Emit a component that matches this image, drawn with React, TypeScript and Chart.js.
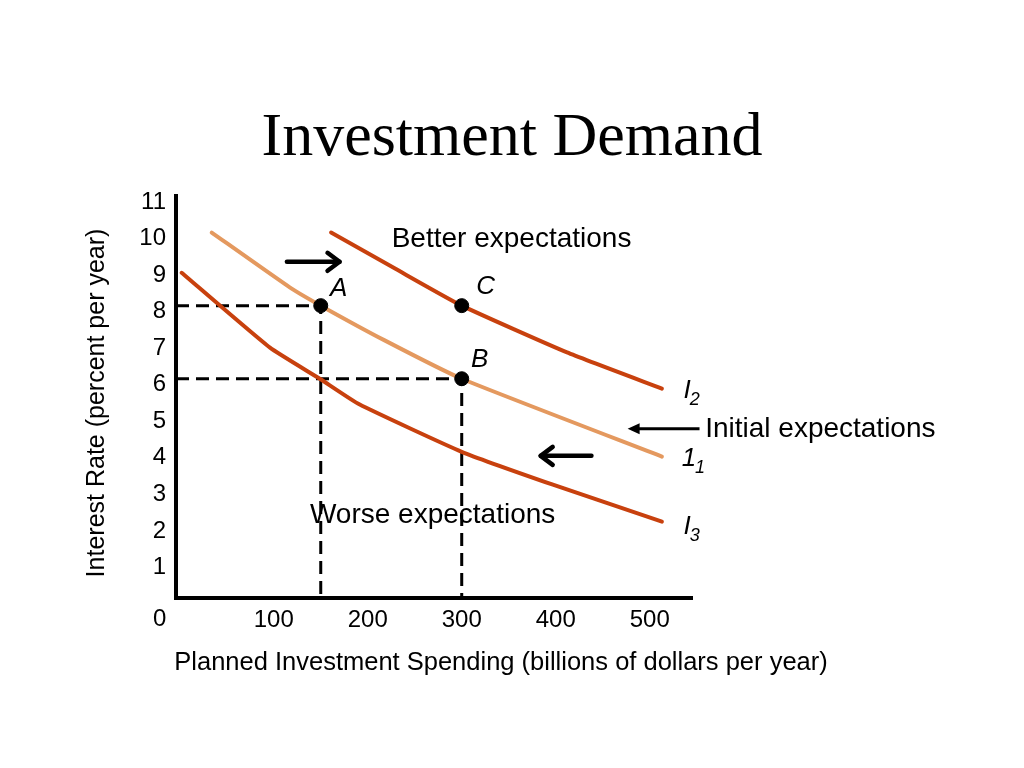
import React, { useEffect, useRef } from "react";
import { Chart, registerables } from "chart.js";

Chart.register(...registerables);

// ---- Data ----
const X_TICKS = [100, 200, 300, 400, 500];
const Y_TICKS = [1, 2, 3, 4, 5, 6, 7, 8, 9, 10, 11];

// Investment demand curves: [spending, rate]
const I2_CURVE = [
  { x: 161, y: 10.0 },
  { x: 230, y: 9.0 },
  { x: 300, y: 8.0 },
  { x: 412, y: 6.72 },
  { x: 513, y: 5.73 },
];
const I1_CURVE = [
  { x: 34, y: 10.0 },
  { x: 117, y: 8.5 },
  { x: 150, y: 8.0 },
  { x: 218, y: 7.05 },
  { x: 300, y: 6.0 },
  { x: 513, y: 3.87 },
];
const I3_CURVE = [
  { x: 2, y: 8.9 },
  { x: 96, y: 6.85 },
  { x: 149, y: 6.0 },
  { x: 191, y: 5.3 },
  { x: 300, y: 4.0 },
  { x: 397, y: 3.1 },
  { x: 513, y: 2.09 },
];

const POINT_A = { x: 150, y: 8 };
const POINT_B = { x: 300, y: 6 };
const POINT_C = { x: 300, y: 8 };

const X_MIN = -4;
const X_MAX = 545;
const Y_MIN = 0;
const Y_MAX = 11;

const X_TITLE = "Planned Investment Spending (billions of dollars per year)";
const Y_TITLE = "Interest Rate (percent per year)";

const DARK = "#C8410E";
const LIGHT = "#E4995F";
const SANS = "'Liberation Sans', Arial, Helvetica, sans-serif";
const SERIF = "'Liberation Serif', 'Times New Roman', serif";

const annotationPlugin = {
  id: "econAnnotations",
  afterDraw(chart: any) {
    const { ctx } = chart;
    const xs = chart.scales.x;
    const ys = chart.scales.y;
    const px = (v: number) => xs.getPixelForValue(v);
    const py = (v: number) => ys.getPixelForValue(v);

    ctx.save();
    // Title
    ctx.fillStyle = "#000";
    ctx.font = `62px ${SERIF}`;
    ctx.textAlign = "center";
    ctx.textBaseline = "middle";
    ctx.fillText("Investment Demand", 512, 139);

    // Axis titles
    ctx.font = `25.5px ${SANS}`;
    ctx.fillText(X_TITLE, 501, 663);
    ctx.save();
    ctx.translate(97, 403);
    ctx.rotate(-Math.PI / 2);
    ctx.font = `25px ${SANS}`;
    ctx.fillText(Y_TITLE, 0, 0);
    ctx.restore();

    // Corner zero label
    ctx.font = `24px ${SANS}`;
    ctx.fillText("0", px(0) - 20, ys.bottom + 21);

    // Text annotations
    ctx.font = `28px ${SANS}`;
    ctx.fillText("Better expectations", px(353), py(9.81));
    ctx.fillText("Worse expectations", px(269), py(2.25));
    ctx.textAlign = "left";
    ctx.fillText("Initial expectations", px(559), py(4.63));

    // Point labels
    ctx.textAlign = "center";
    ctx.font = `italic 26px ${SANS}`;
    ctx.fillText("A", px(169), py(8.47));
    ctx.fillText("B", px(319), py(6.52));
    ctx.fillText("C", px(325.5), py(8.52));

    // Curve labels with subscripts
    const curveLabel = (main: string, sub: string, xv: number, yv: number) => {
      ctx.textAlign = "left";
      ctx.font = `italic 26px ${SANS}`;
      const x = px(xv);
      const y = py(yv);
      ctx.fillText(main, x, y);
      const w = ctx.measureText(main).width;
      ctx.font = `italic 18px ${SANS}`;
      ctx.fillText(sub, x + w - 1, y + 9);
    };
    curveLabel("I", "2", 536, 5.66);
    curveLabel("1", "1", 534, 3.8);
    curveLabel("I", "3", 536, 1.95);

    // Arrows
    const chevronArrow = (x1: number, y1: number, x2: number, y2: number) => {
      const a = px(x1), b = py(y1), c = px(x2), d = py(y2);
      const dir = Math.sign(c - a);
      ctx.strokeStyle = "#000";
      ctx.lineWidth = 4.5;
      ctx.lineCap = "round";
      ctx.lineJoin = "round";
      ctx.beginPath();
      ctx.moveTo(a, b);
      ctx.lineTo(c, d);
      ctx.stroke();
      ctx.beginPath();
      ctx.moveTo(c - dir * 12, d - 9);
      ctx.lineTo(c, d);
      ctx.lineTo(c - dir * 12, d + 9);
      ctx.stroke();
    };
    chevronArrow(114, 9.2, 170, 9.2);
    chevronArrow(438, 3.89, 384, 3.89);

    // Thin arrow with filled head
    {
      const a = px(553), c = px(476.5), y = py(4.63);
      ctx.strokeStyle = "#000";
      ctx.fillStyle = "#000";
      ctx.lineWidth = 3;
      ctx.lineCap = "butt";
      ctx.beginPath();
      ctx.moveTo(a, y);
      ctx.lineTo(c + 10, y);
      ctx.stroke();
      ctx.beginPath();
      ctx.moveTo(c, y);
      ctx.lineTo(c + 12, y - 5.5);
      ctx.lineTo(c + 12, y + 5.5);
      ctx.closePath();
      ctx.fill();
    }
    ctx.restore();
  },
};

export default function App() {
  const canvasRef = useRef<HTMLCanvasElement | null>(null);

  useEffect(() => {
    if (!canvasRef.current) return;
    const dashA = [
      { x: X_MIN, y: POINT_A.y },
      { x: POINT_A.x, y: POINT_A.y },
      { x: POINT_A.x, y: Y_MIN },
    ];
    const dashB = [
      { x: X_MIN, y: POINT_B.y },
      { x: POINT_B.x, y: POINT_B.y },
      { x: POINT_B.x, y: Y_MIN },
    ];
    const curveStyle = (color: string) => ({
      borderColor: color,
      backgroundColor: color,
      borderWidth: 4,
      pointRadius: 0,
      tension: 0.15,
      borderCapStyle: "round" as const,
      borderJoinStyle: "round" as const,
      fill: false,
    });
    const dashStyle = {
      borderColor: "#000",
      borderWidth: 3,
      borderDash: [13, 7],
      pointRadius: 0,
      tension: 0,
      fill: false,
    };

    const chart = new Chart(canvasRef.current, {
      type: "line",
      data: {
        datasets: [
          {
            label: "Points",
            data: [POINT_A, POINT_B, POINT_C],
            showLine: false,
            pointRadius: 7,
            pointBackgroundColor: "#000",
            pointBorderColor: "#000",
            borderColor: "#000",
          } as any,
          { label: "I2", data: I2_CURVE, ...curveStyle(DARK) },
          { label: "I1", data: I1_CURVE, ...curveStyle(LIGHT) },
          { label: "I3", data: I3_CURVE, ...curveStyle(DARK) },
          { label: "dashA", data: dashA, ...dashStyle },
          { label: "dashB", data: dashB, ...dashStyle },
        ],
      },
      options: {
        animation: false,
        responsive: true,
        maintainAspectRatio: false,
        layout: { padding: { left: 0, top: 196, right: 332, bottom: 0 } },
        plugins: {
          legend: { display: false },
          tooltip: { enabled: false },
          title: { display: false },
        },
        scales: {
          x: {
            type: "linear",
            min: X_MIN,
            max: X_MAX,
            grid: { display: false },
            border: { display: true, color: "#000", width: 4 },
            afterBuildTicks: (scale: any) => {
              scale.ticks = X_TICKS.map((v) => ({ value: v }));
            },
            afterFit: (scale: any) => {
              scale.height = 170;
            },
            ticks: {
              color: "#000",
              font: { family: SANS, size: 24 },
              padding: 0,
              maxRotation: 0,
              autoSkip: false,
              callback: (v: any) => String(v),
            },
            title: { display: false },
          },
          y: {
            type: "linear",
            min: Y_MIN,
            max: Y_MAX,
            grid: { display: false },
            border: { display: true, color: "#000", width: 4 },
            afterBuildTicks: (scale: any) => {
              scale.ticks = Y_TICKS.map((v) => ({ value: v }));
            },
            afterFit: (scale: any) => {
              scale.width = 176;
            },
            ticks: {
              color: "#000",
              font: { family: SANS, size: 24 },
              padding: 2,
              labelOffset: 6,
              autoSkip: false,
              callback: (v: any) => String(v),
            },
            title: { display: false },
          },
        },
      },
      plugins: [annotationPlugin],
    });
    return () => chart.destroy();
  }, []);

  return (
    <div
      style={{
        position: "fixed",
        left: 0,
        top: 0,
        width: 1024,
        height: 768,
        background: "#fff",
      }}
    >
      <canvas ref={canvasRef} />
    </div>
  );
}
